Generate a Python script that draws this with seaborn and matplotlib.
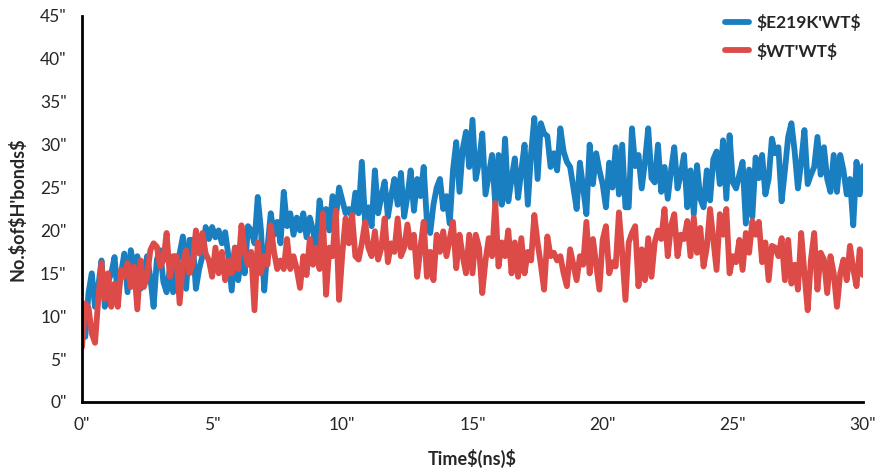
import numpy as np
import pandas as pd
import matplotlib
matplotlib.use("Agg")
import matplotlib.pyplot as plt
import seaborn as sns
from matplotlib.lines import Line2D

# ---- data (0.125 ns sampling) ----
time_ns = [i * 0.125 for i in range(241)]

e219k_wt = [
    9.9, 7.6, 12.7, 15.0, 11.1, 13.5, 16.5, 11.1,
    14.0, 15.0, 16.9, 12.4, 15.0, 17.3, 12.8, 17.7,
    15.4, 17.0, 13.2, 15.0, 17.0, 14.5, 11.1, 16.6,
    17.7, 14.0, 12.8, 15.5, 12.8, 16.0, 17.3, 19.3,
    13.2, 18.9, 18.9, 13.2, 15.5, 17.0, 20.4, 19.0,
    20.4, 19.2, 20.0, 18.5, 19.8, 17.0, 13.0, 18.0,
    14.2, 17.5, 15.0, 20.5, 20.0, 18.5, 23.9, 20.0,
    13.0, 18.0, 22.0, 19.5, 21.0, 18.5, 24.5, 20.5,
    22.0, 19.5, 21.5, 20.0, 22.0, 19.2, 21.5, 20.0,
    17.7, 23.5, 21.0, 22.5, 20.0, 24.0, 21.5, 25.0,
    23.5, 22.0, 22.5, 21.5, 24.4, 22.0, 28.0, 21.0,
    22.7, 20.5, 27.0, 22.0, 24.0, 25.7, 21.6, 24.0,
    26.0, 23.0, 26.7, 21.6, 24.0, 27.0, 22.3, 26.0,
    24.0, 27.4, 21.0, 19.7, 23.0, 25.0, 26.0, 22.5,
    24.0, 20.8, 27.0, 30.3, 24.5, 29.5, 31.5, 27.4,
    32.9, 26.0, 28.0, 31.3, 24.2, 26.5, 28.8, 23.0,
    28.8, 23.0, 30.7, 23.4, 26.0, 28.4, 23.8, 27.0,
    30.0, 23.0, 29.0, 33.1, 26.0, 32.5, 31.3, 31.0,
    27.4, 29.0, 27.0, 31.9, 29.2, 28.0, 27.4, 25.0,
    22.5, 27.9, 25.0, 21.9, 30.0, 25.4, 29.0, 27.0,
    25.4, 22.7, 27.9, 25.0, 29.7, 24.2, 30.0, 22.7,
    22.7, 31.9, 27.5, 28.8, 24.9, 28.0, 31.9, 26.1,
    25.6, 30.0, 24.5, 27.4, 23.7, 27.0, 29.7, 24.9,
    26.5, 28.8, 22.7, 27.0, 21.9, 27.6, 23.7, 22.7,
    27.0, 23.5, 28.3, 29.2, 25.4, 30.5, 23.7, 31.1,
    25.6, 24.9, 26.5, 28.0, 20.8, 27.1, 21.6, 28.5,
    26.1, 28.8, 24.2, 26.0, 30.7, 29.0, 29.7, 23.4,
    27.0, 30.9, 32.5, 29.2, 24.9, 28.0, 31.7, 25.4,
    26.5, 27.4, 30.9, 26.5, 29.7, 26.0, 24.5, 28.8,
    24.5, 28.8, 27.0, 24.2, 26.0, 20.6, 28.0, 24.2,
    27.5,
]

wt_wt = [
    6.4, 11.5, 11.0, 8.0, 6.9, 12.0, 16.2, 12.0,
    15.0, 11.1, 13.8, 11.1, 15.4, 14.6, 16.2, 13.4,
    15.8, 10.8, 16.5, 13.4, 14.6, 17.7, 18.5, 18.1,
    15.8, 16.5, 19.7, 14.6, 17.0, 17.0, 11.5, 16.2,
    17.7, 15.0, 16.0, 20.0, 17.3, 19.7, 17.3, 16.5,
    14.6, 18.0, 15.0, 17.5, 14.2, 16.5, 15.0, 18.0,
    15.5, 20.6, 17.5, 16.0, 17.5, 10.7, 18.6, 15.0,
    17.0, 16.0, 20.6, 17.5, 15.5, 16.5, 15.5, 19.0,
    15.5, 17.0, 15.5, 13.3, 17.0, 14.8, 19.0, 16.0,
    18.0, 15.5, 22.0, 12.5, 18.0, 17.0, 22.3, 11.9,
    17.3, 21.4, 18.5, 21.8, 17.0, 16.6, 18.5, 21.0,
    18.0, 17.0, 19.9, 16.6, 18.0, 21.4, 16.3, 18.5,
    17.5, 21.4, 17.0, 18.0, 20.7, 18.0, 19.5, 14.6,
    18.0, 21.0, 14.6, 17.5, 14.2, 19.5, 17.5, 19.9,
    17.0, 19.0, 21.0, 15.6, 19.5, 17.0, 15.0, 19.5,
    15.0, 19.5, 18.0, 12.7, 16.5, 19.1, 17.0, 23.2,
    15.8, 18.6, 17.0, 20.0, 15.0, 18.6, 14.6, 19.1,
    15.0, 17.5, 16.5, 21.8, 18.6, 16.0, 13.1, 19.3,
    17.0, 17.4, 16.5, 17.0, 15.0, 13.5, 17.8, 16.0,
    14.2, 17.0, 16.0, 21.0, 15.0, 19.0, 16.0, 13.1,
    18.9, 20.5, 15.0, 16.3, 15.8, 22.1, 17.4, 11.9,
    18.6, 19.7, 20.5, 13.5, 17.8, 14.2, 19.1, 14.6,
    18.6, 20.0, 19.0, 22.5, 17.0, 20.5, 21.9, 17.0,
    19.5, 19.0, 21.1, 17.0, 21.5, 17.4, 20.3, 15.8,
    18.0, 22.5, 18.9, 15.4, 21.9, 19.5, 22.5, 15.0,
    17.0, 16.3, 18.9, 15.4, 19.7, 17.4, 21.1, 19.5,
    21.0, 16.3, 18.6, 14.2, 18.2, 18.0, 17.0, 19.1,
    14.2, 18.9, 13.8, 16.0, 13.1, 19.7, 15.0, 10.7,
    16.6, 19.7, 13.1, 17.4, 16.6, 12.7, 17.0, 15.0,
    11.1, 15.0, 16.6, 14.2, 18.2, 15.5, 13.5, 17.8,
    14.8,
]

series_names = ["$E219K'WT$", "$WT'WT$"]
series_colors = ["#1a7fc0", "#dc4b47"]
x_ticks = [0, 5, 10, 15, 20, 25, 30]
y_ticks = [0, 5, 10, 15, 20, 25, 30, 35, 40, 45]
x_label = "Time$(ns)$"
y_label = "No.$of$H'bonds$"


def esc(s):
    return s.replace("$", r"\$")


df = pd.concat([
    pd.DataFrame({"t": time_ns, "v": e219k_wt, "s": series_names[0]}),
    pd.DataFrame({"t": time_ns, "v": wt_wt, "s": series_names[1]}),
], ignore_index=True)

sns.set_theme(style="white")
plt.rcParams["font.family"] = ["Lato", "DejaVu Sans"]

fig = plt.figure(figsize=(8.8, 4.72), dpi=100)
ax = fig.add_axes([82 / 880, 70 / 472, (863 - 82) / 880, (402 - 16) / 472])

sns.lineplot(data=df, x="t", y="v", hue="s", hue_order=series_names,
             palette=series_colors, linewidth=4.2, ax=ax, legend=False,
             estimator=None, sort=False)

ax.set_xlim(0, 30)
ax.set_ylim(0, 45)
ax.set_xticks(x_ticks)
ax.set_yticks(y_ticks)
ax.set_xticklabels([f'{v}"' for v in x_ticks], fontsize=12.5)
ax.set_yticklabels([f'{v}"' for v in y_ticks], fontsize=12.5)
ax.tick_params(axis="both", which="major", direction="out", length=5,
               width=1.8, color="black", pad=6)
for side in ["top", "right"]:
    ax.spines[side].set_visible(False)
for side in ["left", "bottom"]:
    ax.spines[side].set_color("black")
    ax.spines[side].set_linewidth(2.0)

ax.set_xlabel(esc(x_label), fontsize=13, fontweight="bold", labelpad=11)
ax.set_ylabel(esc(y_label), fontsize=13, fontweight="bold", labelpad=10)

handles = [Line2D([0], [0], color=c, lw=4.2, solid_capstyle="round")
           for c in series_colors]
leg = ax.legend(handles, [esc(n) for n in series_names], loc="upper right",
                bbox_to_anchor=(1.013, 1.036), frameon=False, fontsize=12.5,
                handlelength=1.4, handletextpad=0.4, labelspacing=0.65,
                borderaxespad=0.3)
for t in leg.get_texts():
    t.set_fontweight("bold")

fig.savefig("out.png", dpi=100)
